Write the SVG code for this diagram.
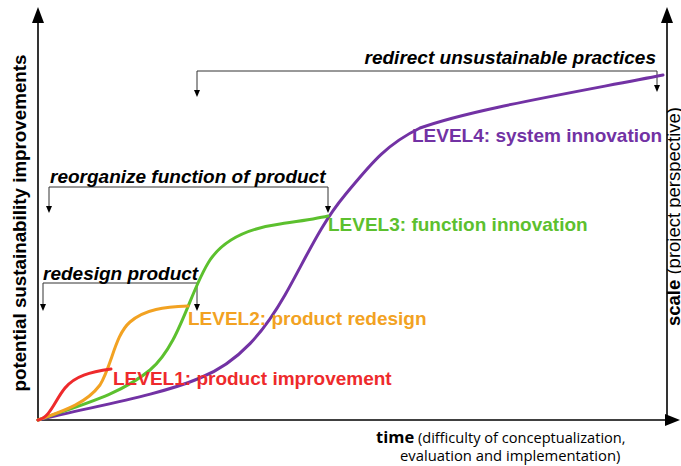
<svg xmlns="http://www.w3.org/2000/svg" width="681" height="466" viewBox="0 0 681 466">
<style>
.axis{stroke:#000;stroke-width:1.6;fill:none}
.br{stroke:#333;stroke-width:1;fill:none}
.ah{fill:#000}
.crv{fill:none;stroke-width:3;stroke-linecap:round}
.lvl{font-family:"Liberation Sans",Arial,sans-serif;font-weight:bold;font-size:19px}
.ann{font-family:"Liberation Sans",Arial,sans-serif;font-weight:bold;font-style:italic;font-size:19px;fill:#000}
.alab{font-family:"Liberation Sans",Arial,sans-serif;fill:#000}
.lab{font-family:"Open Sans","Liberation Sans",sans-serif;fill:#000}
</style>
<g id="axes">
<line class="axis" x1="38" y1="420" x2="38" y2="18"/>
<path class="ah" d="M38,7 L44,23 L32,23 Z"/>
<line class="axis" x1="667" y1="420" x2="667" y2="18"/>
<path class="ah" d="M667,7 L673,23 L661,23 Z"/>
<line class="axis" x1="37" y1="420" x2="670" y2="420"/>
<path class="ah" d="M680,420 L665,414 L665,426 Z"/>
</g>
<g id="axis-labels">
<text class="alab" transform="translate(26,223) rotate(-90)" text-anchor="middle" font-size="18.8" font-weight="bold">potential sustainability improvements</text>
<text class="alab" transform="translate(680,326) rotate(-90)" font-size="18.5"><tspan font-weight="bold">scale</tspan> (project perspective)</text>
<text class="lab" x="376" y="443" font-size="14.6"><tspan font-weight="bold" font-size="16.5">time</tspan> (difficulty of conceptualization,</text>
<text class="lab" x="400" y="461" font-size="14.8">evaluation and implementation)</text>
</g>
<g id="connectors">
<path class="br" d="M43,305 V283 H197 V305"/>
<path class="ah" d="M43,311 L40,304 L46,304 Z"/>
<path class="ah" d="M197,311 L194,304 L200,304 Z"/>
<path class="br" d="M49,207 V187 H328 V207"/>
<path class="ah" d="M49,213 L46,206 L52,206 Z"/>
<path class="ah" d="M328,213 L325,206 L331,206 Z"/>
<path class="br" d="M197,91 V71 H657 V86"/>
<path class="ah" d="M197,97 L194,90 L200,90 Z"/>
<path class="ah" d="M657,92 L654,85 L660,85 Z"/>
</g>
<g id="curves">
<path class="crv" stroke="#7232a4" d="M38,420 C100,405 160,395 200,378 C240,362 265,330 285,295 C305,260 320,225 345,195 C370,165 385,145 420,128 C470,110 560,95 663,75"/>
<path class="crv" stroke="#5cc02e" d="M38,420 C80,405 120,395 150,370 C180,345 190,290 210,260 C225,238 250,228 280,224 C300,221 315,219 328,216"/>
<path class="crv" stroke="#f2a222" d="M38,420 C60,412 85,405 100,385 C112,365 115,335 130,322 C145,309 165,307 188,306"/>
<path class="crv" stroke="#ee2a2c" d="M38,420 C50,418 55,400 65,388 C75,376 90,372 111,369"/>
</g>
<g id="annotation-redesign"><text class="ann" x="43" y="280">redesign product</text></g>
<g id="annotation-reorganize"><text class="ann" x="50" y="183">reorganize function of product</text></g>
<g id="annotation-redirect"><text class="ann" x="656" y="64" text-anchor="end">redirect unsustainable practices</text></g>
<g id="level1"><text class="lvl" x="113" y="385" fill="#ee2a2c">LEVEL1: product improvement</text></g>
<g id="level2"><text class="lvl" x="188" y="325" fill="#f2a222">LEVEL2: product redesign</text></g>
<g id="level3"><text class="lvl" x="328" y="231" fill="#5cc02e">LEVEL3: function innovation</text></g>
<g id="level4"><text class="lvl" x="412" y="142" fill="#7232a4">LEVEL4: system innovation</text></g>
</svg>
